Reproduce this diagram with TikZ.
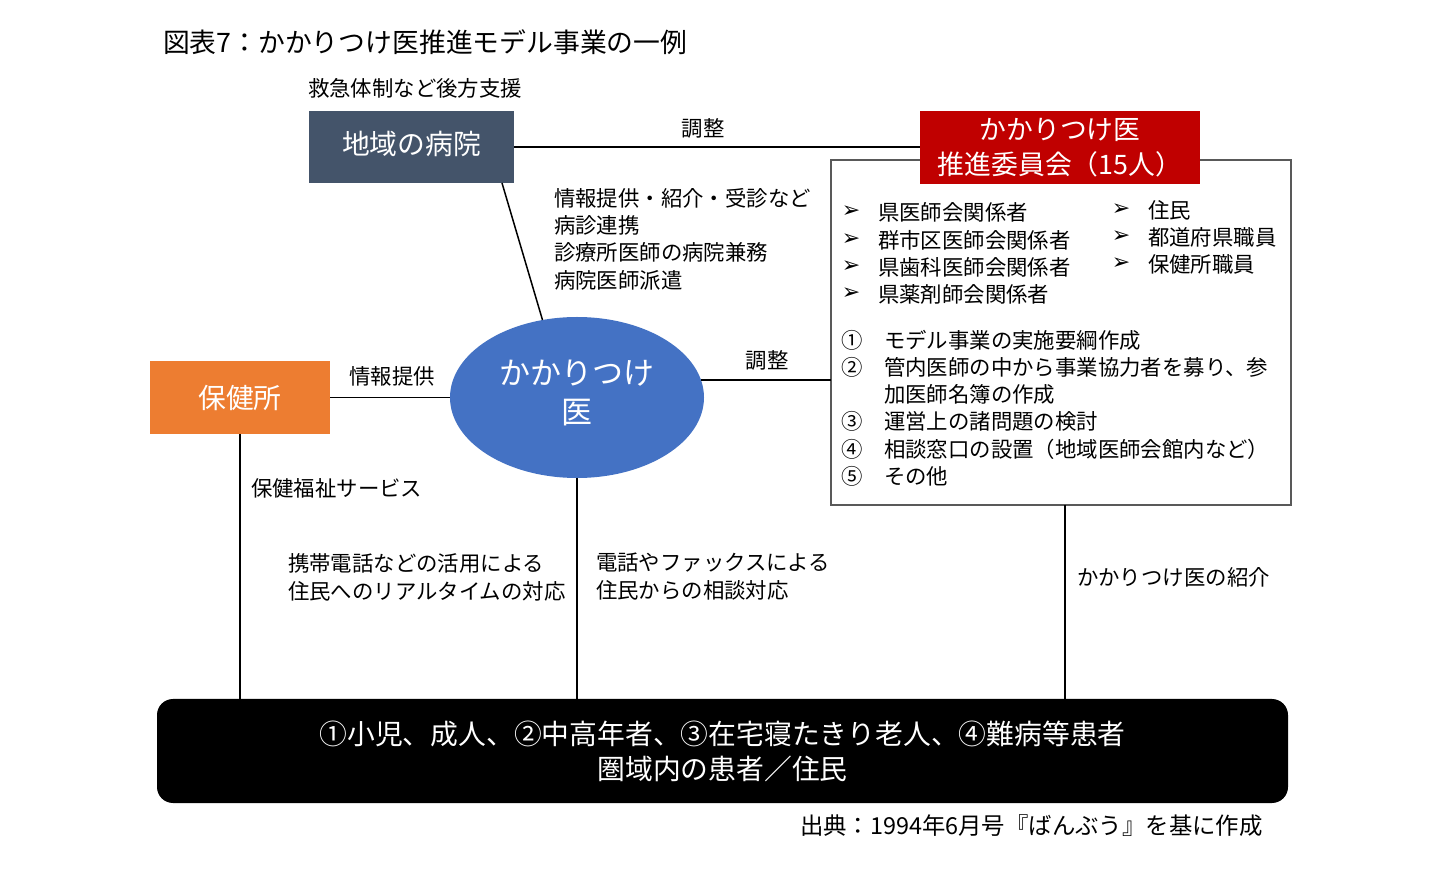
\documentclass[tikz,border=0pt]{standalone}
\usepackage{fontspec}
\setmainfont{Noto Sans CJK JP}
\newfontfamily\symf{DejaVu Sans}
\usetikzlibrary{shapes.geometric}
\definecolor{hospc}{HTML}{44546A}
\definecolor{redc}{HTML}{C00000}
\definecolor{orangec}{HTML}{ED7D31}
\definecolor{bluec}{HTML}{4472C4}
\definecolor{boxc}{HTML}{595959}
\newcommand\jfs[2]{\fontsize{#1}{#2}\selectfont}
\begin{document}
\begin{tikzpicture}[x=0.5pt,y=-0.5pt,
  every node/.style={inner sep=0pt, outer sep=0pt},
  txt/.style={anchor=west, font=\jfs{10.7}{13.65}, align=left},
  lbl/.style={anchor=center, font=\jfs{10.7}{13.65}},
  arr/.style={anchor=center, font=\symf\fontsize{11}{12}\selectfont},
  conn/.style={draw=black, line width=0.75pt},
  filled/.style={text=white, align=center}]
\useasboundingbox[fill=white] (0,0) rectangle (1442,871);

\node[anchor=west, font=\jfs{13.4}{16}] (title) at (163,42) {図表7：かかりつけ医推進モデル事業の一例};
\node[txt] (kyu) at (308,88) {救急体制など後方支援};

\node[fill=hospc, minimum width=102.5pt, minimum height=36pt] (hosp) at (411.5,147) {};
\node[filled, font=\jfs{13.9}{16}] (hospt) at (411.5,144) {地域の病院};
\node[draw=boxc, line width=0.9pt, fill=white, minimum width=230pt, minimum height=172.5pt] (comm) at (1061,332.5) {};
\node[filled, fill=redc, minimum width=140pt, minimum height=36.5pt, font=\jfs{13.4}{17.5}] (red) at (1060,147.5) {かかりつけ医\\推進委員会（15人）};

\node[ellipse, fill=bluec, minimum width=127pt, minimum height=80.5pt] (ell) at (577,397.5) {};
\node[filled, font=\jfs{15.5}{19.5}] (ellt) at (577,392.5) {かかりつけ\\医};

\node[filled, fill=orangec, minimum width=90pt, minimum height=36.5pt, font=\jfs{13.9}{16}] (hoken) at (240,397.5) {保健所};

\node[filled, fill=black, rounded corners=8pt, minimum width=565.5pt, minimum height=52pt, font=\jfs{13.9}{17.5}] (pat) at (722.5,751) {①小児、成人、②中高年者、③在宅寝たきり老人、④難病等患者\\圏域内の患者／住民};

% connectors
\draw[conn] (hosp.east) -- (hosp.east -| red.west);
\draw[conn] ([xshift=45.25pt]hosp.south) -- (ell.114);
\draw[conn] (hoken.east) -- (ell.west);
\draw[conn] (ell.8) -- (ell.8 -| comm.west);
\draw[conn] (hoken.south) -- (hoken.south |- pat.north);
\draw[conn] (ell.south) -- (ell.south |- pat.north);
\draw[conn] ([xshift=2pt]comm.south) -- ([xshift=2pt]comm.south |- pat.north);

% labels
\node[lbl] (l1) at (703,128) {調整};
\node[lbl] (l2) at (392,376) {情報提供};
\node[lbl] (l3) at (767,360) {調整};
\node[txt] (l4) at (251,488) {保健福祉サービス};
\node[txt] (l5) at (1077,577) {かかりつけ医の紹介};

\node[txt] (b1) at (554,239) {情報提供・紹介・受診など\\病診連携\\診療所医師の病院兼務\\病院医師派遣};
\node[txt, font=\jfs{10.7}{14}] (b2) at (288,577) {携帯電話などの活用による\\住民へのリアルタイムの対応};
\node[txt, font=\jfs{10.7}{14}] (b3) at (596,577) {電話やファックスによる\\住民からの相談対応};

% committee members
\foreach \t/\y [count=\i] in {県医師会関係者/212, 群市区医師会関係者/240, 県歯科医師会関係者/267, 県薬剤師会関係者/294} {
  \node[arr] (ma\i) at (851,\y) {➢};
  \node[txt] (mt\i) at (878,\y) {\t};
}
\foreach \t/\y [count=\i] in {住民/210, 都道府県職員/237, 保健所職員/264} {
  \node[arr] (ra\i) at (1121,\y) {➢};
  \node[txt] (rt\i) at (1148,\y) {\t};
}
% tasks
\foreach \n/\t/\y [count=\i] in {①/モデル事業の実施要綱作成/340, ②/管内医師の中から事業協力者を募り、参/367, /加医師名簿の作成/394, ③/運営上の諸問題の検討/421, ④/相談窓口の設置（地域医師会館内など）/449, ⑤/その他/476} {
  \node[lbl] (tn\i) at (852,\y) {\n};
  \node[txt] (tt\i) at (884,\y) {\t};
}

\node[anchor=west, font=\jfs{11.7}{14}] (src) at (800,826) {出典：1994年6月号『ばんぶう』を基に作成};
\end{tikzpicture}
\end{document}
